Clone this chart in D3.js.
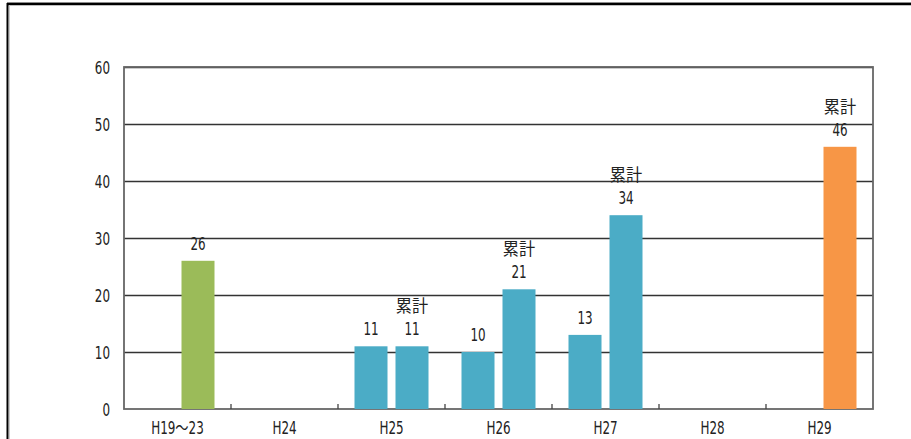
<!DOCTYPE html>
<html><head><meta charset="utf-8">
<script src="https://cdn.jsdelivr.net/npm/d3@7"></script>
<style>
html,body{margin:0;padding:0;background:#fff;}
svg text{font-family:"DejaVu Sans Condensed","Liberation Sans Narrow","Noto Sans CJK JP",sans-serif;fill:#222;}
</style></head>
<body>
<svg id="c" width="911" height="439"></svg>
<script>
const categories = ["H19～23","H24","H25","H26","H27","H28","H29"];
const annual = [null,null,11,10,13,null,null];
const cumulative = [26,null,11,21,34,null,46];
const cumColors = ["#9BBB59",null,"#4BACC6","#4BACC6","#4BACC6",null,"#F79646"];
const annualColor = "#4BACC6";
const cumShowLabel = [false,false,true,true,true,false,true];
const yTicks = [0,10,20,30,40,50,60];

const svg = d3.select("#c");
const m = {l:124, r:873, t:67, b:409};
const FS = 17, SX = 0.78;

// outer frame
svg.append("line").attr("x1",7).attr("x2",911).attr("y1",2.5).attr("y2",2.5).attr("stroke","#bbb").attr("stroke-width",1);
svg.append("line").attr("x1",7).attr("x2",911).attr("y1",4).attr("y2",4).attr("stroke","#000").attr("stroke-width",2.5);
svg.append("line").attr("x1",7.5).attr("x2",7.5).attr("y1",3).attr("y2",439).attr("stroke","#000").attr("stroke-width",2);
svg.append("line").attr("x1",9.5).attr("x2",9.5).attr("y1",5).attr("y2",439).attr("stroke","#ccc").attr("stroke-width",1);

const x = d3.scaleBand().domain(categories).range([m.l,m.r]).padding(0);
const y = d3.scaleLinear().domain([0,60]).range([m.b,m.t]);

// gridlines
svg.append("g").selectAll("line").data(yTicks.filter(d=>d>0)).join("line")
  .attr("x1",m.l).attr("x2",m.r).attr("y1",d=>y(d)+0.5).attr("y2",d=>y(d)+0.5)
  .attr("stroke","#333").attr("stroke-width",1.5);

// plot border
svg.append("rect").attr("x",m.l).attr("y",m.t).attr("width",m.r-m.l).attr("height",m.b-m.t)
  .attr("fill","none").attr("stroke","#666").attr("stroke-width",1.8);

function label(px,py,txt,cjk){
  const t = svg.append("text").attr("transform",`translate(${px},${py}) scale(${cjk?0.95:SX},1)`)
    .attr("text-anchor","middle").attr("font-size",cjk?17:FS).text(txt);
  if(cjk) t.style("font-family","'Noto Sans CJK JP',sans-serif");
  return t;
}

const barW = 33, gap = 8;
const g = svg.append("g");
categories.forEach((c,i)=>{
  const cx = x(c)+x.bandwidth()/2;
  if(annual[i]!=null){
    const x0 = cx - gap/2 - barW;
    g.append("rect").attr("x",x0).attr("y",y(annual[i])).attr("width",barW).attr("height",y(0)-y(annual[i])).attr("fill",annualColor);
    label(x0+barW/2, y(annual[i])-11, annual[i]);
  }
  if(cumulative[i]!=null){
    const x0 = cx + gap/2;
    g.append("rect").attr("x",x0).attr("y",y(cumulative[i])).attr("width",barW).attr("height",y(0)-y(cumulative[i])).attr("fill",cumColors[i]);
    label(x0+barW/2, y(cumulative[i])-11, cumulative[i]);
    if(cumShowLabel[i]) label(x0+barW/2, y(cumulative[i])-34, "累計", true);
  }
});

// axes
const ya = d3.axisLeft(y).tickValues(yTicks).tickSize(0).tickPadding(0);
const yg = svg.append("g").attr("transform",`translate(${m.l},0)`).call(ya);
yg.select(".domain").remove();
yg.selectAll("text").attr("font-size",FS).attr("x",null).attr("dy","0.36em")
  .attr("transform",`translate(-14,0) scale(${SX},1)`);

const xa = d3.axisBottom(x).tickSize(0).tickPadding(0);
const xg = svg.append("g").attr("transform",`translate(0,${m.b})`).call(xa);
xg.select(".domain").remove();
xg.selectAll("text").attr("font-size",FS).attr("y",null).attr("dy",null)
  .attr("transform",`translate(0,25) scale(${SX},1)`);
// category separator ticks
svg.append("g").selectAll("line").data(categories.slice(1)).join("line")
  .attr("x1",d=>x(d)).attr("x2",d=>x(d)).attr("y1",m.b).attr("y2",m.b-5).attr("stroke","#444").attr("stroke-width",1.3);
</script>
</body></html>
